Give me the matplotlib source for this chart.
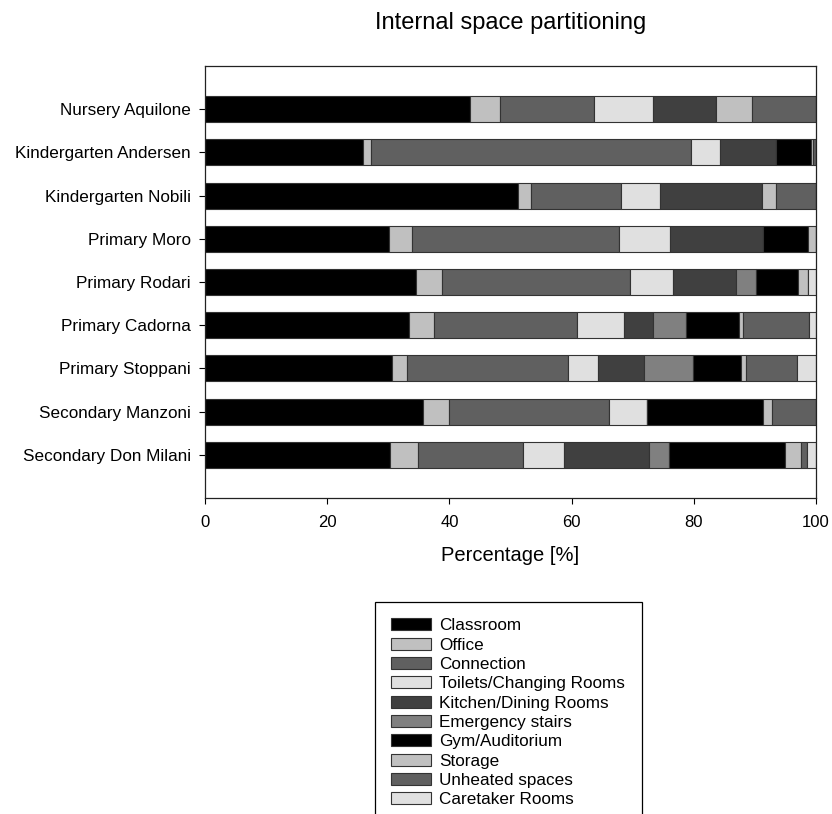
import matplotlib
matplotlib.use("Agg")
import matplotlib.pyplot as plt
import numpy as np

plt.rcParams['font.family'] = ['Liberation Sans', 'DejaVu Sans']

schools = ["Nursery Aquilone", "Kindergarten Andersen", "Kindergarten Nobili",
           "Primary Moro", "Primary Rodari", "Primary Cadorna", "Primary Stoppani",
           "Secondary Manzoni", "Secondary Don Milani"]

categories = ["Classroom", "Office", "Connection", "Toilets/Changing Rooms",
              "Kitchen/Dining Rooms", "Emergency stairs", "Gym/Auditorium",
              "Storage", "Unheated spaces", "Caretaker Rooms"]

# share of each space type per school [%]
classroom  = [43.3, 25.9, 51.2, 30.1, 34.6, 33.4, 30.6, 35.7, 30.3]
office     = [4.9, 1.3, 2.1, 3.7, 4.2, 4.0, 2.5, 4.3, 4.6]
connection = [15.5, 52.4, 14.8, 34.0, 30.8, 23.5, 26.3, 26.1, 17.1]
toilets    = [9.7, 4.7, 6.3, 8.3, 7.0, 7.7, 4.9, 6.3, 6.8]
kitchen    = [10.2, 9.2, 16.8, 15.3, 10.3, 4.8, 7.6, 0.0, 13.8]
emergency  = [0.0, 0.0, 0.0, 0.0, 3.3, 5.4, 7.9, 0.0, 3.3]
gym        = [0.0, 5.7, 0.0, 7.3, 6.9, 8.6, 7.9, 19.0, 19.0]
storage    = [5.9, 0.3, 2.3, 1.3, 1.6, 0.6, 0.9, 1.4, 2.7]
unheated   = [10.5, 0.5, 6.5, 0.0, 0.0, 10.9, 8.3, 7.2, 1.0]
caretaker  = [0.0, 0.0, 0.0, 0.0, 1.3, 1.1, 3.1, 0.0, 1.4]

series = [classroom, office, connection, toilets, kitchen,
          emergency, gym, storage, unheated, caretaker]
colors = ["#000000", "#c0c0c0", "#606060", "#e0e0e0", "#404040",
          "#808080", "#000000", "#c0c0c0", "#606060", "#e0e0e0"]

fig = plt.figure(figsize=(8.32, 8.14), dpi=100)
ax = fig.add_axes([0.2464, 0.3882, 0.7344, 0.5307])

y = np.arange(len(schools))
left = np.zeros(len(schools))
handles = []
for vals, col, name in zip(series, colors, categories):
    vals = np.array(vals)
    b = ax.barh(y, vals, left=left, height=0.6, color=col,
                edgecolor="#333333", linewidth=0.8, label=name)
    handles.append(b)
    left += vals

ax.set_xlim(0, 100)
ax.set_ylim(len(schools), -1)
ax.set_yticks(y)
ax.set_yticklabels(schools, fontsize=12.3)
ax.set_xticks([0, 20, 40, 60, 80, 100])
ax.tick_params(axis='x', labelsize=12, length=4, width=0.8, pad=8)
ax.tick_params(axis='y', length=4, width=0.8, pad=6)
for s in ax.spines.values():
    s.set_linewidth(0.9)
    s.set_color("#222222")
ax.set_xlabel("Percentage [%]", fontsize=14.5, labelpad=12)

fig.text(0.614, 0.972, "Internal space partitioning", ha='center', va='center', fontsize=17)

leg = fig.legend(handles=handles, labels=categories, loc='upper left',
                 bbox_to_anchor=(375 / 832, 1 - 602 / 814), borderaxespad=0,
                 fontsize=12.3, frameon=True, fancybox=False, framealpha=1,
                 edgecolor="#000000", handlelength=2.35, handleheight=0.72,
                 handletextpad=0.47, labelspacing=0.25, borderpad=0.95)
leg.get_frame().set_linewidth(0.9)

fig.savefig("out.png", dpi=100)
